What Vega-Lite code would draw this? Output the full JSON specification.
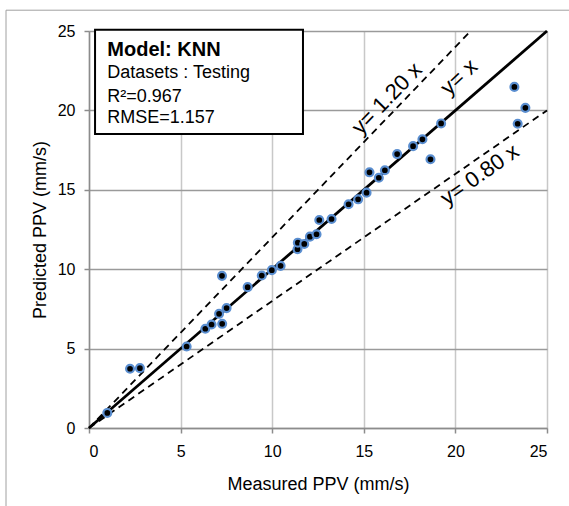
{
  "$schema": "https://vega.github.io/schema/vega-lite/v6.json",
  "width": 458,
  "height": 397,
  "autosize": "none",
  "padding": {"left": 89, "top": 31, "right": 22, "bottom": 78},
  "background": "white",
  "config": {
    "view": {"stroke": null},
    "font": "Liberation Sans",
    "axis": {
      "labelFont": "Liberation Sans",
      "titleFont": "Liberation Sans",
      "labelFontSize": 16,
      "titleFontSize": 18,
      "titleFontWeight": "normal",
      "labelColor": "#000000",
      "titleColor": "#000000",
      "domainColor": "#8c8c8c",
      "tickColor": "#8c8c8c",
      "tickSize": 5,
      "domainWidth": 1.5,
      "tickWidth": 1.5
    }
  },
  "datasets": {
    "points": [
      {"x": 1.0, "y": 0.95},
      {"x": 2.24, "y": 3.73},
      {"x": 2.78, "y": 3.77},
      {"x": 5.33, "y": 5.13},
      {"x": 6.35, "y": 6.25},
      {"x": 6.69, "y": 6.52},
      {"x": 7.27, "y": 6.56},
      {"x": 7.1, "y": 7.19},
      {"x": 7.51, "y": 7.55},
      {"x": 7.26, "y": 9.58},
      {"x": 8.66, "y": 8.87},
      {"x": 9.43, "y": 9.6},
      {"x": 9.98, "y": 9.94},
      {"x": 10.46, "y": 10.21},
      {"x": 11.38, "y": 11.26},
      {"x": 11.4, "y": 11.67},
      {"x": 11.75, "y": 11.59},
      {"x": 12.06, "y": 12.05},
      {"x": 12.42, "y": 12.2},
      {"x": 12.57, "y": 13.1},
      {"x": 13.24, "y": 13.16},
      {"x": 14.17, "y": 14.09},
      {"x": 14.69, "y": 14.4},
      {"x": 15.15, "y": 14.82},
      {"x": 15.31, "y": 16.1},
      {"x": 15.82, "y": 15.76},
      {"x": 16.15, "y": 16.23},
      {"x": 16.82, "y": 17.25},
      {"x": 17.69, "y": 17.75},
      {"x": 18.2, "y": 18.18},
      {"x": 18.64, "y": 16.92},
      {"x": 19.22, "y": 19.18},
      {"x": 23.22, "y": 21.48},
      {"x": 23.82, "y": 20.16},
      {"x": 23.4, "y": 19.16}
    ],
    "lines": [
      {"line": "y=x", "x": 0, "y": 0},
      {"line": "y=x", "x": 25, "y": 25},
      {"line": "y=1.2x", "x": 0, "y": 0},
      {"line": "y=1.2x", "x": 20.833, "y": 25},
      {"line": "y=0.8x", "x": 0, "y": 0},
      {"line": "y=0.8x", "x": 25, "y": 20}
    ],
    "border": [{"x": -4.53, "x2": 35, "y": 26.31, "y2": -10}],
    "box": [{"x": 0.33, "x2": 11.68, "y": 25.08, "y2": 18.51}],
    "boxTitle": [{"text": "Model: KNN", "x": 1.0, "y": 23.43}],
    "boxLines": [
      {"text": "Datasets : Testing", "x": 1.0, "y": 22.01},
      {"text": "R²=0.967", "x": 1.0, "y": 20.54},
      {"text": "RMSE=1.157", "x": 1.0, "y": 19.22}
    ]
  },
  "encoding": {
    "x": {
      "field": "x",
      "type": "quantitative",
      "scale": {"domain": [0, 25], "nice": false, "zero": false},
      "axis": {
        "title": "Measured PPV (mm/s)",
        "values": [0, 5, 10, 15, 20, 25],
        "gridColor": "#c8c8c8",
        "gridWidth": 1.5,
        "labelPadding": 10,
        "titlePadding": 16
      }
    },
    "y": {
      "field": "y",
      "type": "quantitative",
      "scale": {"domain": [0, 25], "nice": false, "zero": false},
      "axis": {
        "title": "Predicted PPV (mm/s)",
        "values": [0, 5, 10, 15, 20, 25],
        "gridColor": "#9a9a9a",
        "gridWidth": 1.5,
        "labelPadding": 9,
        "titlePadding": 8
      }
    }
  },
  "layer": [
    {
      "data": {"name": "border"},
      "mark": {"type": "rect", "fill": null, "stroke": "#a0a0a0", "strokeWidth": 1, "clip": false},
      "encoding": {"x2": {"field": "x2"}, "y2": {"field": "y2"}}
    },
    {
      "data": {"name": "lines"},
      "transform": [{"filter": "datum.line !== 'y=x'"}],
      "mark": {"type": "line", "color": "#000000", "strokeWidth": 1.8, "strokeDash": [7, 5]},
      "encoding": {"detail": {"field": "line"}}
    },
    {
      "data": {"name": "lines"},
      "transform": [{"filter": "datum.line === 'y=x'"}],
      "mark": {"type": "line", "color": "#000000", "strokeWidth": 2.8},
      "encoding": {}
    },
    {
      "data": {"name": "points"},
      "mark": {"type": "point", "shape": "circle", "filled": true, "fill": "#000000", "stroke": "#5a8ed0", "strokeWidth": 2.2, "size": 62, "opacity": 1}
    },
    {
      "data": {"name": "box"},
      "mark": {"type": "rect", "fill": "#ffffff", "stroke": "#000000", "strokeWidth": 2},
      "encoding": {"x2": {"field": "x2"}, "y2": {"field": "y2"}}
    },
    {
      "data": {"name": "boxTitle"},
      "mark": {"type": "text", "align": "left", "baseline": "alphabetic", "fontSize": 20, "fontWeight": "bold", "font": "Liberation Sans", "color": "#000000"},
      "encoding": {"text": {"field": "text"}}
    },
    {
      "data": {"name": "boxLines"},
      "mark": {"type": "text", "align": "left", "baseline": "alphabetic", "fontSize": 18, "font": "Liberation Sans", "color": "#000000"},
      "encoding": {"text": {"field": "text"}}
    },
    {
      "data": {"values": [{"text": "y= 1.20 x", "x": 16.26, "y": 20.75}]},
      "mark": {"type": "text", "align": "center", "baseline": "middle", "fontSize": 22, "font": "Liberation Sans", "angle": -46, "color": "#000000"},
      "encoding": {"text": {"field": "text"}}
    },
    {
      "data": {"values": [{"text": "y=  x", "x": 20.2, "y": 22.1}]},
      "mark": {"type": "text", "align": "center", "baseline": "middle", "fontSize": 22, "font": "Liberation Sans", "angle": -43, "color": "#000000"},
      "encoding": {"text": {"field": "text"}}
    },
    {
      "data": {"values": [{"text": "y= 0.80 x", "x": 21.33, "y": 15.95}]},
      "mark": {"type": "text", "align": "center", "baseline": "middle", "fontSize": 22, "font": "Liberation Sans", "angle": -35, "color": "#000000"},
      "encoding": {"text": {"field": "text"}}
    }
  ]
}
